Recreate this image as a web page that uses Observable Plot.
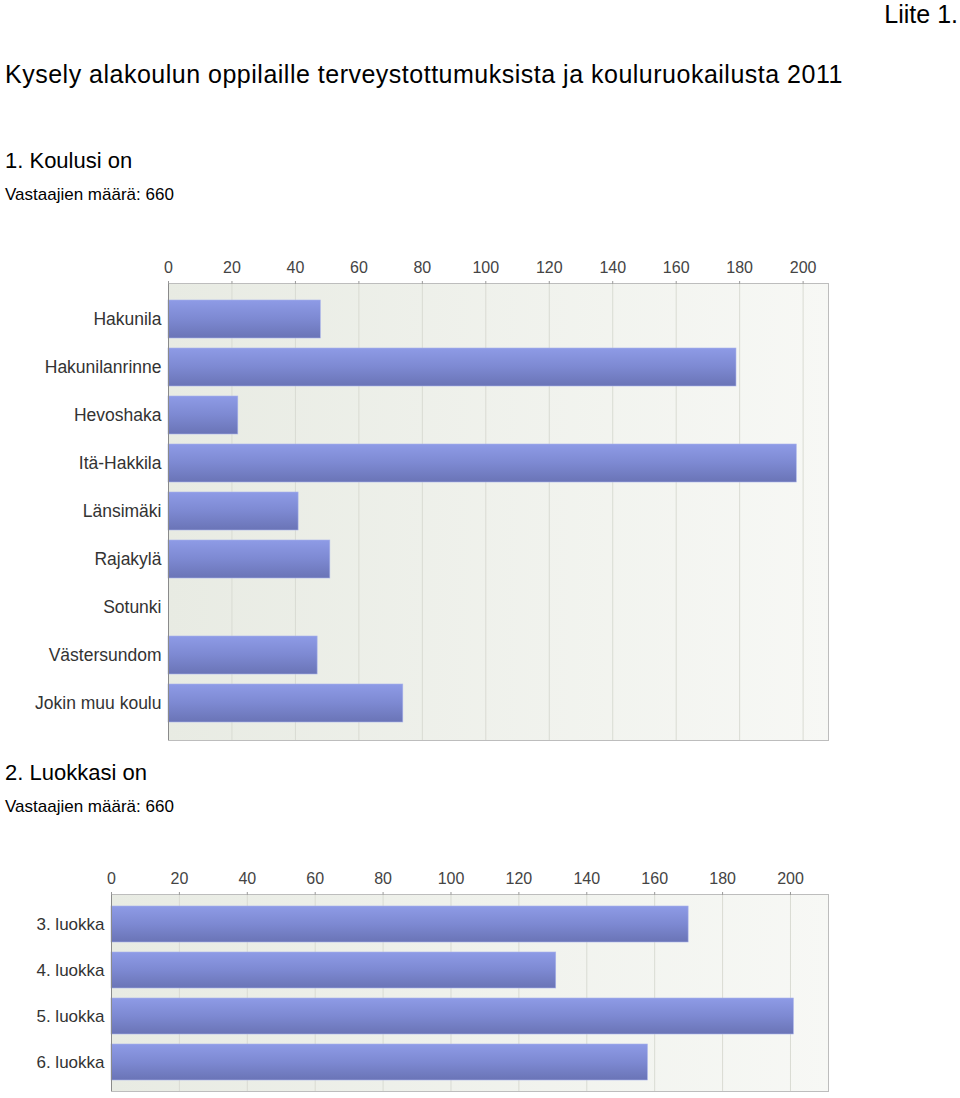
<!DOCTYPE html>
<html>
<head>
<meta charset="utf-8">
<script src="https://cdn.jsdelivr.net/npm/d3@7"></script>
<script src="https://cdn.jsdelivr.net/npm/@observablehq/plot@0.6"></script>
<style>
  html, body { margin: 0; padding: 0; background: #fff; }
  body { width: 960px; height: 1098px; position: relative; overflow: hidden;
         font-family: "Liberation Sans", Arial, Helvetica, sans-serif; color: #000; }
  .t { position: absolute; line-height: 1; white-space: nowrap; }
  .chart { position: absolute; left: 0; }
  .chart svg { display: block; }
</style>
</head>
<body>
<div class="t" style="right:2px; top:2px; font-size:25px;">Liite 1.</div>
<div class="t" style="left:5px; top:62px; font-size:25px; letter-spacing:0.5px;">Kysely alakoulun oppilaille terveystottumuksista ja kouluruokailusta 2011</div>
<div class="t" style="left:5px; top:150px; font-size:22px;">1. Koulusi on</div>
<div class="t" style="left:5px; top:186px; font-size:17px;">Vastaajien määrä: 660</div>
<div class="chart" id="c1" style="top:240px;"></div>
<div class="t" style="left:5px; top:762px; font-size:22px;">2. Luokkasi on</div>
<div class="t" style="left:5px; top:798px; font-size:17px;">Vastaajien määrä: 660</div>
<div class="chart" id="c2" style="top:850px;"></div>

<script>
// ---- Data ----
const schools = ["Hakunila", "Hakunilanrinne", "Hevoshaka", "Itä-Hakkila", "Länsimäki", "Rajakylä", "Sotunki", "Västersundom", "Jokin muu koulu"];
const schoolCounts = [48, 179, 22, 198, 41, 51, 0, 47, 74];
const grades = ["3. luokka", "4. luokka", "5. luokka", "6. luokka"];
const gradeCounts = [170, 131, 201, 158];
const xTicks = [0, 20, 40, 60, 80, 100, 120, 140, 160, 180, 200];

const ns = "http://www.w3.org/2000/svg";
function defs(prefix) {
  return () => {
    const g = document.createElementNS(ns, "defs");
    g.innerHTML = `
      <linearGradient id="${prefix}bg" x1="0" y1="0" x2="1" y2="0">
        <stop offset="0" stop-color="#e8ebe3"/>
        <stop offset="1" stop-color="#f7f8f5"/>
      </linearGradient>
      <linearGradient id="${prefix}bar" x1="0" y1="0" x2="0" y2="1">
        <stop offset="0" stop-color="#8e9be6"/>
        <stop offset="0.5" stop-color="#7d89d2"/>
        <stop offset="1" stop-color="#6a74b6"/>
      </linearGradient>`;
    return g;
  };
}

function chart(prefix, names, values, opts) {
  const data = names.map((name, i) => ({name, value: values[i]}));
  return Plot.plot({
    width: 960,
    height: opts.height,
    marginTop: opts.marginTop,
    marginBottom: 2,
    marginLeft: opts.marginLeft,
    marginRight: 132,
    style: {fontFamily: "'Liberation Sans', Arial, sans-serif", background: "transparent"},
    x: {domain: [0, opts.xMax], axis: null, label: null},
    y: {domain: names, paddingInner: opts.pi, paddingOuter: opts.po, axis: null, label: null},
    marks: [
      defs(prefix),
      Plot.frame({fill: `url(#${prefix}bg)`, stroke: "#bdbdbd"}),
      Plot.ruleX(xTicks.slice(1), {stroke: "#d9dbd3", strokeWidth: 1}),
      Plot.barX(data, {x: "value", y: "name", fill: `url(#${prefix}bar)`, stroke: "#a9b3ea", strokeWidth: 0.6}),
      Plot.ruleX([0], {stroke: "#8a8a8a"}),
      Plot.axisX(xTicks, {anchor: "top", label: null, tickSize: 3, tickPadding: 8, fontSize: 16, fill: "#444", stroke: "#999"}),
      Plot.axisY({label: null, tickSize: 0, tickPadding: 7, fontSize: opts.yFont, fill: "#333"})
    ]
  });
}

document.getElementById("c1").appendChild(
  chart("a", schools, schoolCounts, {height: 502, marginTop: 43, marginLeft: 168, xMax: 208, pi: 0.2, po: 0.28, yFont: 17.5})
);
document.getElementById("c2").appendChild(
  chart("b", grades, gradeCounts, {height: 243, marginTop: 44, marginLeft: 111, xMax: 211.2, pi: 0.22, po: 0.25, yFont: 17})
);
</script>
</body>
</html>
